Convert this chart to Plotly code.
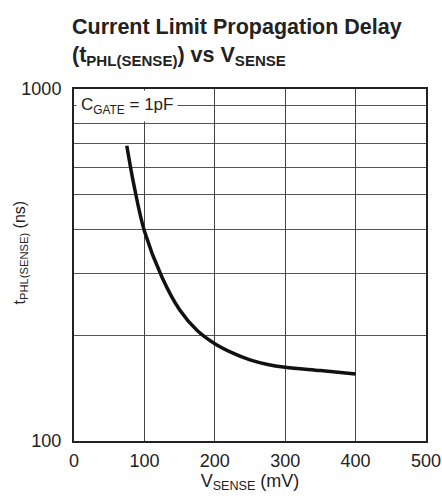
import plotly.graph_objects as go

# Data
v_sense_mv = [75, 85, 100, 125, 150, 175, 200, 225, 250, 275, 300, 350, 400]
t_phl_ns = [690, 535, 395, 292, 236, 206, 189, 178, 170, 165, 162, 158.5, 155]

x_ticks = [0, 100, 200, 300, 400, 500]
y_ticks = [100, 1000]
y_minor = [200, 300, 400, 500, 600, 700, 800, 900]

FONT = "Liberation Sans, Arial, sans-serif"

fig = go.Figure()
fig.add_trace(go.Scatter(
    x=v_sense_mv, y=t_phl_ns, mode="lines",
    line=dict(color="#111111", width=3.5, shape="spline", smoothing=1.0),
    showlegend=False, hoverinfo="skip",
))

fig.update_layout(
    width=442, height=502,
    margin=dict(l=74, r=16, t=89, b=61, autoexpand=False),
    paper_bgcolor="white", plot_bgcolor="white",
    font=dict(family=FONT, size=18, color="#222222"),
    title=dict(
        text="<b>Current Limit Propagation Delay<br>(t<sub>PHL(SENSE)</sub>) vs V<sub>SENSE</sub></b>",
        x=72/442, xref="container", xanchor="left",
        y=0.933, yref="container", yanchor="top",
        font=dict(family=FONT, size=21.5, color="#222222"),
    ),
    xaxis=dict(
        range=[0, 500], tickvals=x_ticks, ticktext=[str(v) for v in x_ticks],
        showgrid=True, gridcolor="#444444", gridwidth=1,
        showline=True, linecolor="#222222", linewidth=2, mirror=True,
        ticks="", ticklabelstandoff=2, zeroline=False, automargin=False,
        title=dict(text="V<sub>SENSE</sub> (mV)", standoff=0, font=dict(size=18)),
        tickfont=dict(size=18),
    ),
    yaxis=dict(
        type="log", range=[2, 3], tickvals=y_ticks, ticktext=[str(v) for v in y_ticks],
        showgrid=True, gridcolor="#444444", gridwidth=1,
        minor=dict(tickvals=y_minor, showgrid=True, gridcolor="#555555", gridwidth=1, ticks=""),
        showline=True, linecolor="#222222", linewidth=2, mirror=True,
        ticks="", ticklabelstandoff=7, zeroline=False, automargin=False,
        tickfont=dict(size=18),
    ),
)

# y-axis title as a rotated annotation (placed like the reference)
fig.add_annotation(
    x=-0.1847, y=0.537, xref="paper", yref="paper", xanchor="left", yanchor="middle",
    text="t<sub>PHL(SENSE)</sub> (ns)", textangle=-90, showarrow=False,
    font=dict(family=FONT, size=16, color="#222222"),
)

fig.add_annotation(
    x=0, y=1, xref="paper", yref="paper", xanchor="left", yanchor="top",
    xshift=2, yshift=-1,
    text="C<sub>GATE</sub> = 1pF", showarrow=False,
    bgcolor="white", borderpad=4,
    font=dict(family=FONT, size=17, color="#222222"),
)

fig.write_html(
    "out.html",
    config={"displayModeBar": False, "staticPlot": True},
    post_script="document.body.style.margin='0';document.body.style.overflow='hidden';",
)
